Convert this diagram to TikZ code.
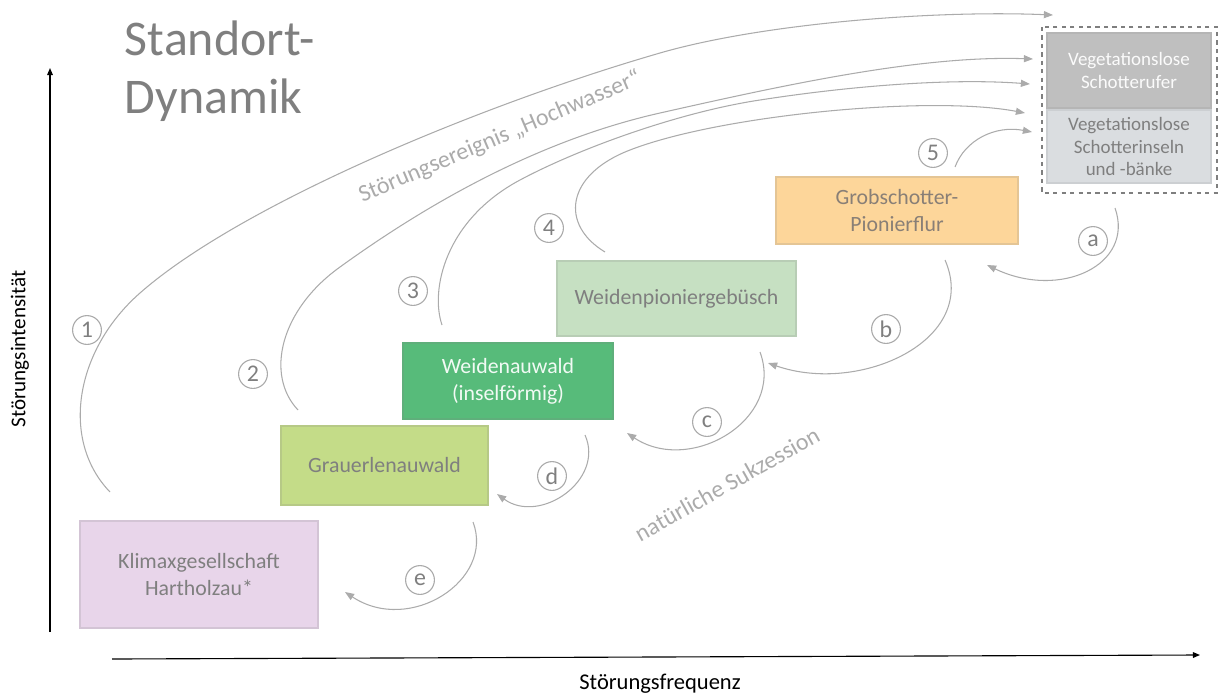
\documentclass[tikz,border=0pt]{standalone}
\usepackage{fontspec}
\setmainfont{Carlito}
\usepackage{tikz}
\usetikzlibrary{arrows.meta}
\definecolor{txt}{HTML}{7F7F7F}
\definecolor{line}{HTML}{ABABAB}
\definecolor{klimax}{HTML}{E8D5EA}
\definecolor{erle}{HTML}{C4DC88}
\definecolor{weide}{HTML}{57BB7A}
\definecolor{pionier}{HTML}{C6E0C2}
\definecolor{schotter}{HTML}{FDD69A}
\definecolor{ufer}{HTML}{BFBFBF}
\definecolor{insel}{HTML}{DADDE0}
\tikzset{
  stand/.style={draw=#1!80!gray, fill=#1, line width=1pt, text=txt, align=center,
    font=\fontsize{15.5}{19}\selectfont, inner sep=0pt},
  bare/.style={draw=#1!85!gray, fill=#1, line width=1pt, text=txt, align=center,
    font=\fontsize{13.5}{16.3}\selectfont, inner sep=0pt, minimum width=4.1cm},
  num/.style={circle, draw=line, line width=0.8pt, text=txt, inner sep=0pt,
    minimum size=20.5pt, font=\fontsize{17}{20}\selectfont},
  flow/.style={draw=line, line width=0.75pt, -{Triangle[length=6.5pt, width=5pt]}},
  axis/.style={draw=black, line width=0.8pt, -{Triangle[length=5pt, width=4pt]}},
  axlab/.style={text=black, font=\fontsize{15}{18}\selectfont},
  labl/.style={text=line, font=\fontsize{17}{20}\selectfont}
}
\begin{document}
\begin{tikzpicture}[x=0.025cm, y=-0.025cm]
  \useasboundingbox (0,0) rectangle (1220,697);

  % axes
  \coordinate (Ybot) at (50,632);
  \coordinate (Ytop) at (50,68);
  \coordinate (Xbeg) at (112,659);
  \coordinate (Xend) at (1200,655);
  \draw[axis] (Ybot)--(Ytop);
  \draw[axis] (Xbeg)--(Xend);
  \node[axlab, rotate=90] (ylab) at (20,349) {Störungsintensität};
  \node[axlab, font=\fontsize{16}{18}\selectfont] (xlab) at (660,684) {Störungsfrequenz};

  \node[text=txt, font=\fontsize{35.5}{41}\selectfont, align=left, anchor=base west]
    (title) at (120,113) {Standort-\\Dynamik}; % base = last line

  % stands
  \node[stand=klimax, minimum width=5.95cm, minimum height=2.675cm] (klimax) at (199,574.5)
    {Klimaxgesellschaft\\Hartholzau*};
  \node[stand=erle, minimum width=5.175cm, minimum height=1.975cm] (erle) at (384.5,465.5)
    {Grauerlenauwald};
  \node[stand=weide, text=white!92!weide, minimum width=5.25cm, minimum height=1.9cm] (weide) at (508,381)
    {Weidenauwald\\(inselförmig)};
  \node[stand=pionier, minimum width=5.975cm, minimum height=1.875cm] (pionier) at (676.5,298.5)
    {Weidenpioniergebüsch};
  \node[stand=schotter, text=txt!85!brown, minimum width=6.05cm, minimum height=1.675cm] (grob) at (897,210.5)
    {Grobschotter-\\Pionierflur};
  \node[bare=ufer, text=white!94!ufer, minimum height=1.875cm] (ufer) at (1129,70.5)
    {Vegetationslose\\Schotterufer};
  \node[bare=insel, minimum height=1.825cm] (insel) at (1129,146.5)
    {Vegetationslose\\Schotterinseln\\und -bänke};
  \draw[txt, dashed, line width=0.9pt] (1042,27) rectangle (1217,193);

  % disturbance events
  \coordinate (s1) at (110,492);  \coordinate (t1) at (1053,15);
  \coordinate (s2) at (298,410);  \coordinate (t2) at (1033,59);
  \coordinate (s3) at (442,325);  \coordinate (t3) at (1030,84);
  \coordinate (s4) at (605,252);  \coordinate (t4) at (1025,113);
  \coordinate (s5) at (955,167);  \coordinate (t5) at (1032,132);
  \draw[flow] (s1) .. controls (60,440) and (75,350) .. (140,293)
    .. controls (240,205) and (480,105) .. (660,53)
    .. controls (760,24) and (930,10) .. (t1);
  \draw[flow] (s2) .. controls (265,375) and (280,310) .. (340,267)
    .. controls (430,202) and (540,140) .. (660,113)
    .. controls (780,86) and (920,55) .. (t2);
  \draw[flow] (s3) .. controls (430,290) and (445,220) .. (520,180)
    .. controls (580,148) and (680,112) .. (760,100)
    .. controls (850,86) and (950,78) .. (t3);
  \draw[flow] (s4) .. controls (560,225) and (565,175) .. (630,150)
    .. controls (720,115) and (930,95) .. (t4);
  \draw[flow] (s5) .. controls (965,140) and (995,125) .. (t5);

  % succession
  \coordinate (ra) at (1115,208);  \coordinate (ea) at (987,265);
  \coordinate (rb) at (945,260);   \coordinate (eb) at (768,363);
  \coordinate (rc) at (760,352);   \coordinate (ec) at (627,433);
  \coordinate (rd) at (585,435);   \coordinate (ed) at (497,494);
  \coordinate (re) at (473,522);   \coordinate (ee) at (345,592);
  \draw[flow] (ra) .. controls (1135,265) and (1060,300) .. (ea);
  \draw[flow] (rb) .. controls (980,340) and (860,395) .. (eb);
  \draw[flow] (rc) .. controls (785,420) and (690,475) .. (ec);
  \draw[flow] (rd) .. controls (605,480) and (540,525) .. (ed);
  \draw[flow] (re) .. controls (495,580) and (410,635) .. (ee);

  \node[num] (n1) at (87,330) {1};
  \node[num] (n2) at (253,374) {2};
  \node[num] (n3) at (413,291) {3};
  \node[num] (n4) at (549,228) {4};
  \node[num] (n5) at (933,153) {5};
  \node[num] (na) at (1093,241) {a};
  \node[num] (nb) at (886,329) {b};
  \node[num] (nc) at (707,422) {c};
  \node[num] (nd) at (552,476) {d};
  \node[num] (ne) at (420,580) {e};

  \node[labl, rotate=23] (hoch) at (500,137) {Störungsereignis „Hochwasser“};
  \node[labl, rotate=29.5] (sukz) at (727,484) {natürliche Sukzession};
\end{tikzpicture}
\end{document}
